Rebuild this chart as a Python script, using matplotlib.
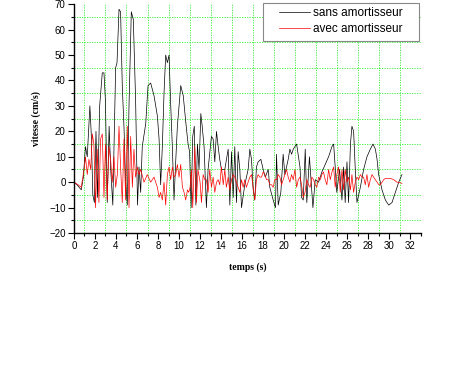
import matplotlib
matplotlib.use("Agg")
import matplotlib.pyplot as plt
from matplotlib.patches import Rectangle
from matplotlib.ticker import MultipleLocator

# vitesse sans amortisseur (courbe noire)
t_sans = [0, 0.3, 0.7, 0.9, 1.1, 1.27, 1.52, 1.65, 1.8, 1.95,
          2.1, 2.25, 2.45, 2.7, 2.86, 3.0, 3.17, 3.35, 3.5, 3.7,
          3.85, 3.97, 4.1, 4.29, 4.44, 4.6, 4.76, 4.92, 5.08, 5.24,
          5.46, 5.65, 5.87, 6.05, 6.19, 6.35, 6.5, 6.83, 7.05, 7.3,
          7.62, 7.94, 8.1, 8.25, 8.41, 8.57, 8.73, 8.89, 9.05, 9.2,
          9.37, 9.52, 9.68, 9.84, 10.16, 10.4, 10.63, 10.86, 11.0, 11.15,
          11.3, 11.45, 11.6, 11.75, 11.9, 12.07, 12.2, 12.38, 12.6, 12.76,
          13.08, 13.24, 13.4, 13.56, 13.72, 13.87, 14.03, 14.35, 14.67, 14.83,
          14.99, 15.15, 15.3, 15.46, 15.62, 15.78, 15.94, 16.25, 16.57, 16.73,
          16.89, 17.05, 17.2, 17.36, 17.52, 17.78, 18.0, 18.2, 18.48, 18.63,
          18.95, 19.17, 19.27, 19.43, 19.68, 19.9, 20.06, 20.38, 20.54, 20.7,
          20.86, 21.18, 21.5, 21.65, 21.81, 22.0, 22.15, 22.4, 22.73, 22.95,
          23.27, 23.58, 23.9, 24.22, 24.54, 24.7, 24.85, 25.0, 25.27, 25.49,
          25.65, 25.8, 25.97, 26.12, 26.3, 26.44, 26.6, 26.76, 26.92, 27.24,
          27.55, 27.87, 28.19, 28.44, 28.67, 28.83, 28.98, 29.3, 29.62, 29.94,
          30.25, 30.57, 30.89, 31.2]
v_sans = [0, -1, -3, 2, 14, 10, 30, 19, -5, -8,
          20, -6, 30, 43, 43, 32, -8, 22, 5, -9,
          20, 45, 47, 68, 67, 38, 22, 0, -9, 30,
          67, 64, 32, -9, 6, -4, 14, 23, 38, 39,
          34, 26, 17, -1, 14, 35, 50, 47, 50, 31,
          13, -7, 8, 22, 38, 34, 24, 15, 12, -10,
          18, 22, -9, 15, 5, 27, 22, 14, -10, 5,
          18, 17, 8, 20, 14, 9, 5, 5, 13, -9,
          12, -6, 14, -8, 12, 5, -10, -1, 5, 13,
          9, -3, -7, 6, 8, 9, 5, 2, 5, -2,
          -7, -10, 11, -9, -4, 11, 3, 9, 13, 11,
          13, 15, 6, -6, -7, 13, -8, 10, -10, 1,
          0, 4, 7, 10, 14, 15, 6, -4, 5, -7,
          6, -8, 8, -8, 15, 22, 20, 5, -8, -2,
          5, 10, 13, 15, 13, 9, 3, -3, -7, -9,
          -8, -4, 0, 3]

# vitesse avec amortisseur (courbe rouge)
t_avec = [0, 0.4, 0.7, 1.0, 1.1, 1.27, 1.43, 1.6, 1.75, 1.9,
          2.06, 2.22, 2.38, 2.54, 2.7, 2.86, 3.0, 3.17, 3.33, 3.49,
          3.65, 3.81, 3.97, 4.13, 4.29, 4.44, 4.6, 4.76, 4.92, 5.08,
          5.24, 5.4, 5.56, 5.71, 5.87, 6.03, 6.19, 6.35, 6.67, 6.98,
          7.3, 7.62, 7.94, 8.1, 8.25, 8.41, 8.57, 8.73, 8.89, 9.05,
          9.2, 9.37, 9.52, 9.68, 9.84, 10.0, 10.16, 10.32, 10.48, 10.63,
          10.8, 10.92, 11.05, 11.18, 11.3, 11.5, 11.65, 11.8, 12.0, 12.13,
          12.29, 12.45, 12.6, 12.76, 12.92, 13.08, 13.24, 13.4, 13.56, 13.72,
          13.87, 14.03, 14.2, 14.35, 14.5, 14.67, 14.83, 14.99, 15.15, 15.3,
          15.46, 15.62, 15.78, 15.94, 16.1, 16.25, 16.4, 16.57, 16.73, 16.89,
          17.05, 17.2, 17.36, 17.52, 17.68, 17.84, 18.0, 18.16, 18.32, 18.48,
          18.63, 18.8, 18.95, 19.1, 19.27, 19.43, 19.59, 19.75, 19.9, 20.06,
          20.22, 20.38, 20.54, 20.7, 20.86, 21.02, 21.18, 21.34, 21.5, 21.65,
          21.81, 21.98, 22.15, 22.31, 22.47, 22.63, 22.79, 22.95, 23.1, 23.27,
          23.43, 23.58, 23.74, 23.9, 24.06, 24.22, 24.38, 24.54, 24.7, 24.85,
          25.0, 25.17, 25.33, 25.49, 25.65, 25.8, 25.97, 26.12, 26.3, 26.44,
          26.6, 26.76, 26.92, 27.08, 27.24, 27.4, 27.55, 27.71, 27.87, 28.03,
          28.19, 28.35, 28.5, 28.67, 28.83, 29.0, 29.14, 29.3, 29.46, 29.62,
          29.78, 30.1, 30.41, 30.73, 31.05, 31.2]
v_avec = [0, -1, -2, 6, 10, 3, 9, 5, 19, 15,
          -10, 13, -8, 17, 19, -6, 15, -7, 14, 9,
          0, 10, -2, 3, 22, 6, -8, 17, -7, 22,
          -10, 18, -2, 13, 2, 6, 3, 5, 0, 3,
          0, 2, -2, -6, -4, -7, 0, -9, 3, 6,
          1, 6, 2, 3, 7, 2, 7, -2, -4, -7,
          -3, -4, -2, 5, -10, 14, -8, 5, 0, -8,
          3, 1, 1, -4, 5, -2, 2, -4, 0, 1,
          -1, 6, -1, 5, -2, 2, -3, 1, 3, 2,
          0, -2, -4, 1, -2, 1, -2, 0, 2, 3,
          -2, -7, 1, 3, 2, 2, 4, 3, 1, 1,
          -1, -1, -2, 1, 1, 3, 2, -1, 1, 3,
          5, 2, 0, 3, 1, 5, -2, 1, 2, -1,
          -6, -4, 1, -1, -2, 2, 1, -1, -2, 2,
          1, 3, 4, 1, -1, 5, 1, 4, 6, -2,
          3, 6, -4, 5, -3, 5, 0, 2, -3, 3,
          -4, 0, 2, 1, 3, 2, 2, -1, 3, -2,
          1, 3, 2, 1, 0, -1, -1, 0, 1, 1.5,
          1.5, 1.5, 1, 0, -0.2, -0.5]

fig = plt.figure(figsize=(4.59, 3.79), dpi=100)
ax = fig.add_axes([0.161, 0.385, 0.756, 0.604])

ax.plot(t_sans, v_sans, color='black', lw=0.5, label='sans amortisseur')
ax.plot(t_avec, v_avec, color='red', lw=0.5, label='avec amortisseur')

ax.set_xlim(0, 33)
ax.set_ylim(-20, 70)
ax.xaxis.set_major_locator(MultipleLocator(2))
ax.xaxis.set_minor_locator(MultipleLocator(1))
ax.yaxis.set_major_locator(MultipleLocator(10))
ax.yaxis.set_minor_locator(MultipleLocator(5))

# grille verte sur les graduations secondaires
ax.grid(which='minor', color='#33ee33', lw=0.6, linestyle=(0, (1.5, 1.5)))
ax.grid(which='major', visible=False)
ax.set_axisbelow(True)

for s in ['top', 'right']:
    ax.spines[s].set_visible(False)
for s in ['left', 'bottom']:
    ax.spines[s].set_linewidth(1.0)

ax.tick_params(which='major', direction='out', length=4, width=0.8,
               labelsize=7, pad=2)
ax.tick_params(which='minor', direction='out', length=2, width=0.8)
for lab in ax.get_xticklabels() + ax.get_yticklabels():
    lab.set_family('Liberation Sans')

ax.set_xlabel('temps (s)', family='Liberation Serif', fontweight='bold',
              fontsize=7, labelpad=8)
ax.set_ylabel('vitesse (cm/s)', family='Liberation Serif', fontweight='bold',
              fontsize=7, labelpad=6)

# cadre de la légende (style Origin, marge à gauche)
cadre = Rectangle((0.545, 0.838), 0.449, 0.166, transform=ax.transAxes,
                  facecolor='white', edgecolor='#888888', lw=0.8,
                  clip_on=False, zorder=4)
ax.add_patch(cadre)
leg = ax.legend(loc='upper left', bbox_to_anchor=(0.585, 0.997),
                prop={'family': 'Liberation Sans', 'size': 8.5},
                frameon=False, handlelength=2.6, handletextpad=0.3,
                labelspacing=0.35, borderpad=0.2, borderaxespad=0)
leg.set_zorder(5)

fig.savefig('out.png', dpi=100)
